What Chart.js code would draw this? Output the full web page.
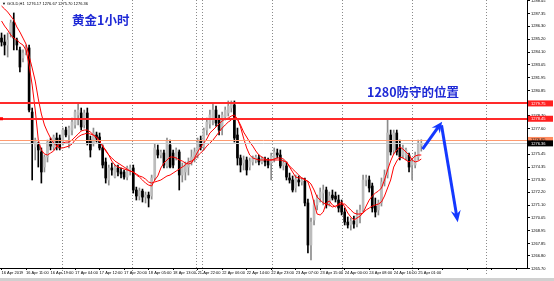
<!DOCTYPE html>
<html><head><meta charset="utf-8">
<script src="https://cdn.jsdelivr.net/npm/chart.js@4.4.1/dist/chart.umd.min.js"></script>
<style>html,body{margin:0;padding:0;background:#fff;overflow:hidden}canvas{display:block}</style>
</head><body>
<canvas id="c" width="554" height="281"></canvas>
<script>
// ---- data (XAU H1) ----
const opens = [1285.30,1284.96,1284.71,1285.81,1286.66,1285.13,1284.29,1283.61,1284.29,1284.46,
1279.02,1276.05,1276.22,1275.63,1274.35,1275.20,1276.47,1276.05,1276.81,1276.81,
1276.47,1277.49,1277.07,1277.49,1277.92,1278.77,1278.94,1277.92,1278.94,1276.64,
1276.39,1277.07,1276.90,1275.97,1274.78,1273.25,1274.27,1273.50,1274.27,1273.93,
1273.93,1273.50,1274.10,1274.27,1272.40,1271.89,1272.31,1271.80,1271.97,1271.89,
1273.42,1275.80,1275.37,1275.54,1274.44,1276.22,1275.54,1275.20,1275.63,1273.67,
1273.93,1274.35,1274.78,1275.12,1275.37,1276.64,1276.05,1277.49,1278.00,1278.34,
1279.19,1278.34,1277.66,1278.60,1278.94,1279.36,1279.62,1277.07,1275.12,1274.69,
1274.95,1274.35,1274.78,1274.95,1275.12,1274.78,1274.95,1274.86,1274.69,1275.12,
1275.54,1275.37,1274.52,1274.44,1273.42,1273.25,1272.57,1273.25,1273.08,1273.16,
1271.30,1267.73,1269.85,1271.13,1271.72,1272.14,1272.40,1271.30,1271.97,1271.89,
1271.55,1271.21,1270.53,1269.68,1269.43,1269.77,1269.51,1270.19,1270.70,1273.25,
1273.25,1272.74,1271.04,1270.70,1271.30,1273.08,1273.67,1277.07,1275.80,1277.24,
1275.97,1275.37,1275.20,1275.37,1274.52,1274.52,1275.20,1276.17];
const highs = [1285.73,1285.56,1285.73,1286.83,1287.43,1285.30,1284.54,1284.29,1284.71,1284.71,
1279.36,1276.81,1276.47,1275.97,1275.37,1276.64,1276.81,1277.07,1277.24,1277.07,
1277.66,1277.75,1277.83,1278.51,1279.19,1279.79,1279.36,1279.19,1279.36,1276.98,
1277.66,1277.32,1277.24,1276.22,1275.12,1274.52,1274.69,1274.52,1274.52,1274.27,
1274.10,1274.44,1274.52,1274.52,1272.65,1272.57,1272.48,1272.23,1272.23,1273.67,
1276.30,1276.22,1275.80,1275.80,1276.81,1276.64,1275.80,1275.97,1275.80,1274.69,
1274.78,1275.12,1275.80,1275.97,1276.81,1276.98,1277.66,1278.51,1279.19,1279.79,
1279.53,1278.77,1279.02,1279.45,1279.96,1279.96,1279.96,1277.66,1275.37,1275.29,
1275.20,1275.12,1275.29,1275.37,1275.37,1275.20,1275.20,1275.12,1275.54,1275.97,
1275.88,1275.80,1274.95,1274.78,1273.84,1273.59,1273.67,1273.59,1273.42,1273.42,
1271.63,1270.02,1271.55,1271.97,1272.57,1272.82,1272.65,1272.23,1272.40,1272.23,
1271.97,1271.55,1270.87,1270.11,1270.02,1270.19,1270.70,1271.13,1273.67,1273.67,
1273.59,1272.99,1271.72,1271.55,1273.42,1274.10,1278.34,1277.49,1277.49,1277.49,
1276.64,1276.22,1275.97,1275.54,1275.12,1275.63,1276.64,1276.67];
const lows = [1284.62,1283.86,1283.69,1285.39,1284.29,1284.29,1282.42,1283.27,1283.86,1279.02,
1273.25,1274.95,1274.35,1272.99,1273.93,1274.78,1275.80,1275.80,1275.80,1275.80,
1276.22,1276.90,1275.97,1277.07,1277.66,1277.92,1277.49,1277.66,1276.22,1275.20,
1276.13,1276.47,1275.80,1274.27,1272.99,1272.82,1273.67,1273.42,1273.59,1273.42,
1273.33,1273.25,1273.67,1272.14,1271.55,1271.55,1271.38,1271.30,1270.96,1271.63,
1273.25,1275.12,1275.12,1274.27,1274.27,1274.27,1274.27,1274.95,1272.40,1273.08,
1273.25,1273.67,1274.52,1274.78,1275.12,1275.80,1275.80,1277.07,1277.66,1277.92,
1277.83,1277.07,1277.07,1278.34,1278.68,1279.02,1276.47,1274.52,1273.93,1274.10,
1273.67,1274.10,1274.52,1274.69,1274.52,1274.61,1274.44,1274.27,1273.25,1274.78,
1275.12,1274.27,1274.10,1273.25,1272.99,1272.23,1272.23,1272.74,1272.82,1271.04,
1267.05,1266.46,1269.43,1270.70,1271.38,1271.13,1270.87,1271.04,1271.55,1271.38,
1270.53,1270.28,1269.43,1269.17,1269.00,1269.17,1269.26,1269.60,1270.53,1272.74,
1272.23,1270.53,1270.11,1270.28,1271.04,1272.74,1273.42,1275.37,1275.46,1275.37,
1274.95,1275.12,1274.95,1273.93,1273.25,1274.27,1274.95,1275.70];
const closes = [1284.96,1284.71,1285.13,1286.58,1285.30,1284.71,1282.84,1284.03,1284.46,1279.19,
1276.39,1276.64,1275.80,1273.93,1275.20,1276.47,1276.13,1276.90,1276.30,1275.97,
1277.49,1277.07,1277.66,1278.17,1279.02,1279.19,1277.75,1278.94,1276.39,1275.80,
1277.24,1276.81,1275.97,1274.52,1273.42,1274.27,1274.10,1274.35,1273.93,1273.76,
1273.50,1274.27,1274.27,1272.40,1271.89,1272.31,1271.80,1271.97,1271.72,1273.42,
1275.97,1275.37,1275.63,1274.52,1276.56,1274.35,1274.52,1275.80,1273.67,1274.35,
1274.52,1274.78,1275.20,1275.63,1276.47,1276.05,1277.49,1278.17,1278.77,1279.19,
1278.09,1277.49,1278.77,1279.19,1279.53,1279.70,1276.81,1275.12,1274.52,1274.95,
1274.10,1274.86,1275.12,1275.20,1274.78,1275.03,1274.78,1274.52,1275.29,1275.63,
1275.37,1274.44,1274.69,1273.50,1273.25,1272.40,1273.33,1273.08,1273.25,1271.30,
1267.73,1269.68,1271.13,1271.72,1272.23,1272.40,1271.13,1271.89,1271.72,1271.63,
1270.87,1270.53,1269.68,1269.43,1269.77,1269.51,1270.28,1270.70,1273.25,1273.42,
1272.57,1270.87,1270.53,1271.30,1273.08,1273.67,1277.24,1275.63,1277.24,1275.63,
1275.20,1275.97,1275.80,1274.35,1274.78,1275.37,1276.39,1276.36];
const maFast = [1286.75,1286.32,1285.98,1285.56,1285.30,1285.13,1284.88,1284.71,1284.29,1283.01,
1281.31,1279.19,1276.64,1275.80,1275.46,1275.37,1275.54,1275.71,1276.13,1276.30,
1276.39,1276.47,1276.47,1276.64,1276.90,1277.15,1277.41,1277.49,1277.49,1277.32,
1277.07,1276.90,1276.56,1276.13,1275.80,1275.37,1274.86,1274.52,1274.35,1274.27,
1274.18,1274.10,1274.01,1273.93,1273.67,1273.50,1273.25,1272.99,1272.82,1272.74,
1273.25,1273.59,1274.27,1274.69,1274.95,1275.20,1275.20,1275.12,1274.95,1274.86,
1274.69,1274.61,1274.69,1275.12,1275.63,1276.05,1276.39,1276.73,1277.24,1277.49,
1277.75,1278.00,1278.26,1278.43,1278.51,1278.68,1278.77,1278.43,1277.75,1276.81,
1275.97,1275.37,1275.12,1275.03,1274.95,1274.95,1274.95,1274.95,1274.95,1275.03,
1275.12,1275.12,1275.03,1274.78,1274.35,1273.93,1273.50,1273.42,1273.42,1273.33,
1273.08,1272.31,1271.30,1270.36,1270.28,1270.53,1271.30,1271.47,1271.13,1270.96,
1271.21,1271.38,1270.96,1270.45,1270.11,1269.85,1270.02,1270.19,1270.45,1271.04,
1271.55,1271.89,1272.14,1272.31,1272.57,1273.25,1274.10,1274.86,1275.46,1275.80,
1276.05,1275.88,1275.63,1275.37,1274.95,1274.78,1274.86,1275.03];
const maSlow = [1288.02,1287.77,1287.51,1287.17,1286.83,1286.24,1285.81,1285.30,1284.79,1283.78,
1282.76,1281.65,1280.13,1278.85,1277.92,1277.32,1276.81,1276.39,1276.13,1275.97,
1275.97,1276.05,1276.13,1276.30,1276.64,1276.90,1277.07,1277.15,1277.24,1277.15,
1277.07,1276.81,1276.56,1276.13,1275.71,1275.37,1275.12,1274.86,1274.69,1274.52,
1274.35,1274.18,1274.01,1273.93,1273.76,1273.59,1273.50,1273.33,1273.08,1272.99,
1273.08,1273.16,1273.25,1273.42,1273.59,1273.67,1273.84,1274.01,1274.18,1274.35,
1274.52,1274.78,1274.86,1275.03,1275.29,1275.54,1275.80,1276.13,1276.39,1276.64,
1276.98,1277.32,1277.66,1277.92,1278.17,1278.34,1278.60,1278.43,1277.92,1277.32,
1276.90,1276.47,1276.13,1275.71,1275.37,1275.20,1275.03,1274.95,1274.95,1274.95,
1274.95,1274.95,1274.86,1274.78,1274.44,1274.18,1273.93,1273.67,1273.42,1273.25,
1273.16,1272.91,1272.40,1271.80,1271.55,1271.30,1271.21,1271.13,1270.96,1271.04,
1271.13,1271.21,1271.21,1270.96,1270.70,1270.45,1270.36,1270.36,1270.45,1270.70,
1270.87,1271.04,1271.13,1271.21,1271.38,1271.89,1272.57,1273.25,1274.35,1274.86,
1275.20,1275.12,1274.95,1274.78,1275.03,1275.29,1275.37,1275.37];
const slotCount = 172;          // bar slots on the time axis (incl. empty right margin)
const tickEvery = 8;            // a time label every 8 bars
const timeLabels = ['16 Apr 2019','16 Apr 11:00','16 Apr 19:00','17 Apr 04:00','17 Apr 12:00','17 Apr 20:00',
'18 Apr 05:00','18 Apr 13:00','21 Apr 22:00','22 Apr 06:00','22 Apr 14:00','22 Apr 23:00',
'23 Apr 07:00','23 Apr 15:00','24 Apr 00:00','24 Apr 08:00','24 Apr 16:00','25 Apr 01:00'];
const priceTicks = [1288.45,1287.35,1286.30,1285.20,1284.10,1283.05,1281.95,1280.85,1279.80,1278.70,1277.60,
1276.55,1275.45,1274.35,1273.30,1272.20,1271.10,1270.05,1268.95,1267.85,1266.80,1265.70];
const levelRed = [1279.75, 1278.45];
const levelOrange = 1276.65;
const bidPrice = 1276.36;
const daySeparators = [19.7, 42.6, 63.5, 65.4, 88.3, 111.1, 134.0, 158.1];
const headerText = '\u25BC GOLD,H1  1276.17 1276.67 1275.70 1276.36';
const titleText = '黄金1小时';
const noteText = '1280防守的位置';

// ---- chart ----
const categories = Array.from({length: slotCount}, (_, i) => i);
const isUp = i => closes[i] >= opens[i];
const AX_FONT = {family: 'Liberation Sans', size: 4};

function drawArrow(ctx, x1, y1, x2, y2, head, width) {
  const a = Math.atan2(y2 - y1, x2 - x1), c = Math.cos(a), s = Math.sin(a);
  const bx = x2 - head * c, by = y2 - head * s;
  ctx.beginPath(); ctx.moveTo(x1, y1); ctx.lineTo(x2 - head * 0.5 * c, y2 - head * 0.5 * s); ctx.stroke();
  ctx.beginPath(); ctx.moveTo(x2, y2);
  ctx.lineTo(bx + width / 2 * s, by - width / 2 * c);
  ctx.lineTo(x2 - head * 0.65 * c, y2 - head * 0.65 * s);
  ctx.lineTo(bx - width / 2 * s, by + width / 2 * c);
  ctx.closePath(); ctx.fill();
}

const overlay = {
  id: 'overlay',
  beforeDatasetsDraw(chart) {
    const {ctx, chartArea: a, scales: {x}} = chart;
    ctx.save();
    ctx.strokeStyle = '#8a8a8a'; ctx.lineWidth = 1; ctx.setLineDash([1, 2]);
    daySeparators.forEach(v => {
      const px = Math.round(x.getPixelForValue(v)) + 0.5;
      ctx.beginPath(); ctx.moveTo(px, a.top); ctx.lineTo(px, a.bottom + 8); ctx.stroke();
    });
    ctx.restore();
  },
  afterDatasetsDraw(chart) {
    const {ctx, chartArea: a, scales: {y}} = chart;
    ctx.save();
    const hline = (p, col, w) => {
      const py = Math.round(y.getPixelForValue(p)) + (w % 2 ? 0.5 : 0);
      ctx.strokeStyle = col; ctx.lineWidth = w;
      ctx.beginPath(); ctx.moveTo(a.left, py); ctx.lineTo(a.right, py); ctx.stroke();
    };
    hline(bidPrice, '#c8c8c8', 1);
    hline(levelOrange, '#ff9a70', 1);
    levelRed.forEach(p => hline(p, '#ff2a2a', 2));
    // small marker on the left
    ctx.fillStyle = '#ff0000';
    ctx.fillRect(a.left, y.getPixelForValue(levelRed[1]) - 1.5, 3, 3);
    ctx.restore();
  },
  afterDraw(chart) {
    const {ctx, chartArea: a, scales: {x, y}} = chart;
    ctx.save();
    // price tags on right axis
    const tag = (p, bg, fg) => {
      const py = y.getPixelForValue(p);
      ctx.fillStyle = bg; ctx.fillRect(a.right + 1, py - 3, 25, 6);
      ctx.fillStyle = fg; ctx.font = '4px "Liberation Sans"'; ctx.textBaseline = 'middle'; ctx.textAlign = 'left';
      ctx.fillText(p.toFixed(2), a.right + 4, py + 0.3);
    };
    levelRed.forEach(p => tag(p, '#ff2020', '#ffffff'));
    tag(levelOrange, '#ff8c60', '#000000');
    tag(bidPrice, '#000000', '#ffffff');
    // header
    ctx.fillStyle = '#000'; ctx.font = '4px "Liberation Sans"'; ctx.textBaseline = 'middle'; ctx.textAlign = 'left';
    ctx.fillText(headerText, 2, 4);
    // annotation texts
    ctx.fillStyle = '#1f2ad6';
    ctx.font = 'bold 12.5px "Noto Sans CJK SC"';
    ctx.fillText(titleText, x.getPixelForValue(23.0), y.getPixelForValue(1286.78));
    ctx.fillText(noteText, x.getPixelForValue(119.3), y.getPixelForValue(1280.68));
    // arrows
    ctx.strokeStyle = '#1438ff'; ctx.fillStyle = '#1438ff'; ctx.lineWidth = 3; ctx.lineCap = 'butt';
    drawArrow(ctx, x.getPixelForValue(137.4), y.getPixelForValue(1275.88), x.getPixelForValue(143.8), y.getPixelForValue(1278.20), 11, 10);
    drawArrow(ctx, x.getPixelForValue(143.6), y.getPixelForValue(1277.90), x.getPixelForValue(148.9), y.getPixelForValue(1269.66), 12, 10);
    // bottom strip
    ctx.fillStyle = '#d0d0d0'; ctx.fillRect(0, 278, 554, 3);
    ctx.restore();
  }
};

function build() {
  new Chart(document.getElementById('c'), {
    type: 'bar',
    data: {
      labels: categories,
      datasets: [
        {type: 'line', data: maFast, borderColor: '#ff0000', borderWidth: 1, pointRadius: 0, tension: 0, order: 0},
        {type: 'line', data: maSlow, borderColor: '#ff0000', borderWidth: 1, pointRadius: 0, tension: 0, order: 0},
        {data: opens.map((o, i) => [o, closes[i]]), grouped: false, barThickness: 2, order: 1,
         backgroundColor: opens.map((o, i) => isUp(i) ? '#bcbcbc' : '#000000'), borderWidth: 0},
        {data: lows.map((l, i) => [l, highs[i]]), grouped: false, barThickness: 1, order: 2,
         backgroundColor: opens.map((o, i) => isUp(i) ? '#8c8c8c' : '#000000'), borderWidth: 0}
      ]
    },
    options: {
      responsive: false, animation: false, devicePixelRatio: 1,
      layout: {padding: 0},
      plugins: {legend: {display: false}, tooltip: {enabled: false}},
      scales: {
        x: {
          type: 'category', offset: true,
          grid: {display: true, drawOnChartArea: false, offset: false, tickLength: 2,
                 color: c => (c.index % tickEvery === 0 ? '#000' : 'rgba(0,0,0,0)')},
          border: {color: '#000'},
          ticks: {autoSkip: false, maxRotation: 0, minRotation: 0, align: 'start', padding: 0,
                  font: AX_FONT, color: '#000',
                  callback: (v, i) => (i % tickEvery === 0 ? (timeLabels[i / tickEvery] || '') : '')},
          afterFit: s => { s.height = 13; s.paddingLeft = 0; s.paddingRight = 0; }
        },
        y: {
          position: 'right', min: 1265.78, max: 1288.53,
          afterBuildTicks: s => { s.ticks = priceTicks.map(v => ({value: v})); },
          grid: {drawOnChartArea: false, tickLength: 3, color: '#000'},
          border: {color: '#000'},
          ticks: {font: AX_FONT, color: '#000', padding: 1, callback: v => Number(v).toFixed(2)},
          afterFit: s => { s.width = 27; s.paddingTop = 0; s.paddingBottom = 0; }
        }
      }
    },
    plugins: [overlay]
  });
}
Promise.all([
  document.fonts.load('bold 12.5px "Noto Sans CJK SC"', '黄金小时防守的位置'),
  document.fonts.load('4px "Liberation Sans"')
]).then(build, build);
</script>
</body></html>
